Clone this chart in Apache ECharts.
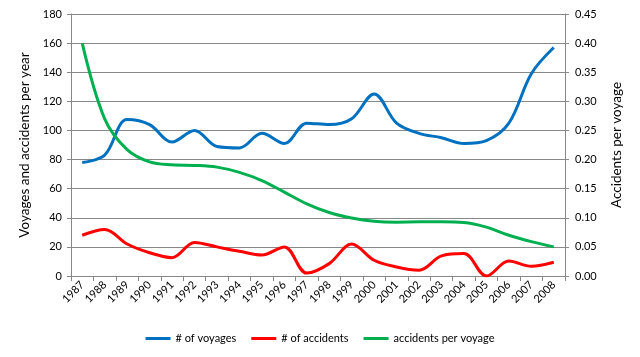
<!DOCTYPE html>
<html>
<head>
<meta charset="utf-8">
<script src="https://cdn.jsdelivr.net/npm/echarts@6/dist/echarts.min.js"></script>
<style>html,body{margin:0;padding:0;background:#fff}#c{width:640px;height:357px}</style>
</head>
<body>
<div id="c"></div>
<script>
const years = ['1987','1988','1989','1990','1991','1992','1993','1994','1995','1996','1997','1998','1999','2000','2001','2002','2003','2004','2005','2006','2007','2008'];
const voyages = [78, 83, 107.5, 104, 92, 100, 89, 88, 98, 91, 105, 104, 108, 125, 105, 98, 95, 91, 93, 105, 139, 157];
const accidents = [28, 32, 22, 16, 12.6, 23, 20, 17, 14.4, 20, 2, 8.5, 22, 10.8, 6.2, 4, 13.8, 15.4, 0, 10.3, 6.7, 9.4];
const perVoyage = [0.40, 0.27, 0.217, 0.196, 0.191, 0.19, 0.187, 0.178, 0.164, 0.144, 0.124, 0.109, 0.0995, 0.094, 0.0925, 0.093, 0.093, 0.092, 0.084, 0.07, 0.059, 0.05];

const FONT = 'Lato';
const gridColor = '#888888';
const SMOOTH = 0.35;
const chart = echarts.init(document.getElementById('c'), null, {renderer: 'canvas'});
chart.setOption({
  animation: false,
  textStyle: {fontFamily: FONT, color: '#000'},
  grid: {left: 71, right: 75, top: 14, bottom: 81, containLabel: false},
  legend: {
    bottom: 8, left: 'center', itemWidth: 25, itemHeight: 3, itemGap: 15, icon: 'rect',
    textStyle: {fontFamily: FONT, fontSize: 11, color: '#000'},
    data: ['# of voyages', '# of accidents', 'accidents per voyage']
  },
  xAxis: {
    type: 'category', data: years, boundaryGap: true,
    axisLine: {lineStyle: {color: gridColor, width: 1}},
    axisTick: {show: true, alignWithLabel: false, length: 5, lineStyle: {color: gridColor}},
    axisLabel: {rotate: 45, fontSize: 11, color: '#000', fontFamily: FONT, margin: 7, interval: 0}
  },
  yAxis: [
    {
      type: 'value', min: 0, max: 180, interval: 20,
      name: 'Voyages and accidents per year', nameLocation: 'middle', nameGap: 37,
      nameTextStyle: {fontSize: 13.5, fontFamily: FONT, color: '#000'},
      axisLine: {show: true, lineStyle: {color: gridColor}},
      axisTick: {show: true, length: 4, lineStyle: {color: gridColor}},
      axisLabel: {fontSize: 11, color: '#000', fontFamily: FONT, margin: 9},
      splitLine: {show: true, lineStyle: {color: gridColor, width: 1}}
    },
    {
      type: 'value', min: 0, max: 0.45, interval: 0.05,
      name: 'Accidents per voyage', nameLocation: 'middle', nameGap: 45,
      nameTextStyle: {fontSize: 13.5, fontFamily: FONT, color: '#000'},
      axisLine: {show: true, lineStyle: {color: gridColor}},
      axisTick: {show: true, length: 4, lineStyle: {color: gridColor}},
      axisLabel: {fontSize: 11, color: '#000', fontFamily: FONT, margin: 10, formatter: v => v.toFixed(2)},
      splitLine: {show: false}
    }
  ],
  series: [
    {name: '# of voyages', type: 'line', data: voyages, yAxisIndex: 0, smooth: SMOOTH, symbol: 'none',
     lineStyle: {color: '#0070C0', width: 3}, itemStyle: {color: '#0070C0'}},
    {name: '# of accidents', type: 'line', data: accidents, yAxisIndex: 0, smooth: SMOOTH, symbol: 'none',
     lineStyle: {color: '#FF0000', width: 3}, itemStyle: {color: '#FF0000'}},
    {name: 'accidents per voyage', type: 'line', data: perVoyage, yAxisIndex: 1, smooth: SMOOTH, symbol: 'none',
     lineStyle: {color: '#00B050', width: 3}, itemStyle: {color: '#00B050'}}
  ]
});
</script>
</body>
</html>
